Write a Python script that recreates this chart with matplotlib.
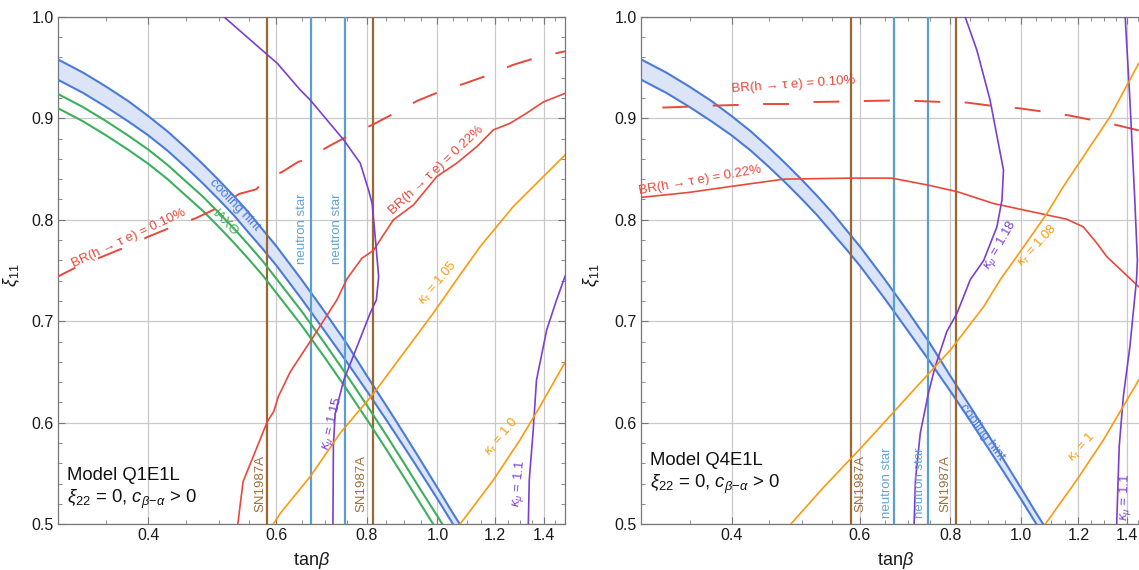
import matplotlib
matplotlib.use('Agg')
import numpy as np
import matplotlib.pyplot as plt
from matplotlib.ticker import FixedLocator, FixedFormatter, NullFormatter

plt.rcParams['font.family'] = ['Liberation Sans', 'DejaVu Sans']
plt.rcParams['mathtext.fontset'] = 'custom'
plt.rcParams['mathtext.rm'] = 'Liberation Sans'
plt.rcParams['mathtext.it'] = 'Liberation Sans:italic'
plt.rcParams['mathtext.bf'] = 'Liberation Sans:bold'
plt.rcParams['lines.scale_dashes'] = False

# ---------------- data ----------------
x_ticks = [0.4, 0.6, 0.8, 1.0, 1.2, 1.4]
x_ticklabels = ['0.4', '0.6', '0.8', '1.0', '1.2', '1.4']
x_minor = [0.35, 0.45, 0.5, 0.55, 0.65, 0.7, 0.75, 0.85, 0.9, 0.95,
           1.05, 1.1, 1.15, 1.25, 1.3, 1.35, 1.45]
y_ticks = [0.5, 0.6, 0.7, 0.8, 0.9, 1.0]
y_ticklabels = ['0.5', '0.6', '0.7', '0.8', '0.9', '1.0']
y_minor = [0.52, 0.54, 0.56, 0.58, 0.62, 0.64, 0.66, 0.68, 0.72, 0.74, 0.76, 0.78,
           0.82, 0.84, 0.86, 0.88, 0.92, 0.94, 0.96, 0.98]

# cooling hint band (both panels)
cool_x_up = [0.300, 0.325, 0.350, 0.375, 0.400, 0.425, 0.450, 0.475, 0.500, 0.525, 0.550, 0.575,
             0.600, 0.650, 0.700, 0.750, 0.800, 0.850, 0.900, 0.950, 1.000, 1.050, 1.074]
cool_y_up = [0.958, 0.945, 0.931, 0.917, 0.902, 0.887, 0.871, 0.855, 0.839, 0.823, 0.807, 0.790,
             0.774, 0.741, 0.709, 0.678, 0.646, 0.617, 0.589, 0.562, 0.536, 0.511, 0.500]
cool_x_lo = [0.300, 0.325, 0.350, 0.375, 0.400, 0.425, 0.450, 0.475, 0.500, 0.525, 0.550, 0.575,
             0.600, 0.650, 0.700, 0.750, 0.800, 0.850, 0.900, 0.950, 1.000, 1.051]
cool_y_lo = [0.938, 0.925, 0.911, 0.897, 0.883, 0.868, 0.852, 0.836, 0.820, 0.804, 0.787, 0.771,
             0.755, 0.722, 0.690, 0.660, 0.631, 0.603, 0.576, 0.550, 0.525, 0.500]

# IAXO lines (left panel)
iaxo_x_up = [0.300, 0.325, 0.350, 0.375, 0.400, 0.425, 0.450, 0.475, 0.500, 0.525, 0.550, 0.575,
             0.600, 0.650, 0.700, 0.750, 0.800, 0.850, 0.900, 0.950, 1.000, 1.016]
iaxo_y_up = [0.924, 0.911, 0.897, 0.883, 0.869, 0.854, 0.838, 0.823, 0.807, 0.791, 0.775, 0.759,
             0.742, 0.710, 0.678, 0.647, 0.617, 0.588, 0.560, 0.533, 0.508, 0.500]
iaxo_x_lo = [0.300, 0.325, 0.350, 0.375, 0.400, 0.425, 0.450, 0.475, 0.500, 0.525, 0.550, 0.575,
             0.600, 0.650, 0.700, 0.750, 0.800, 0.850, 0.900, 0.950, 0.987]
iaxo_y_lo = [0.910, 0.897, 0.883, 0.869, 0.855, 0.840, 0.824, 0.809, 0.793, 0.777, 0.761, 0.745,
             0.728, 0.696, 0.664, 0.633, 0.603, 0.574, 0.546, 0.519, 0.500]

# vertical bounds
sn_x = [0.583, 0.814]
ns_x = [0.669, 0.746]

# ---- left panel: Model Q1E1L ----
L_br010_x = [0.30, 0.3194, 0.3457, 0.3734, 0.40, 0.4322, 0.4647, 0.50, 0.533, 0.563, 0.575, 0.614,
             0.643, 0.661, 0.707, 0.760, 0.815, 0.879, 0.939, 1.016, 1.093, 1.181, 1.27, 1.374, 1.5]
L_br010_y = [0.744, 0.7538, 0.7637, 0.7735, 0.7834, 0.7932, 0.8015, 0.8123, 0.8254, 0.830, 0.8366, 0.848,
             0.857, 0.8596, 0.872, 0.884, 0.8937, 0.9062, 0.9173, 0.9272, 0.9345, 0.943, 0.9525, 0.960, 0.966]
L_br022_x = [0.531, 0.540, 0.583, 0.595, 0.604, 0.627, 0.647, 0.675, 0.712, 0.727, 0.751, 0.787, 0.817,
             0.839, 0.870, 0.927, 0.998, 1.063, 1.133, 1.194, 1.259, 1.327, 1.399, 1.5]
L_br022_y = [0.500, 0.542, 0.601, 0.611, 0.626, 0.650, 0.665, 0.685, 0.711, 0.721, 0.742, 0.762, 0.770,
             0.783, 0.800, 0.8146, 0.8425, 0.8557, 0.872, 0.8885, 0.895, 0.905, 0.916, 0.9246]
L_kmu115_x = [0.508, 0.559, 0.602, 0.647, 0.668, 0.743, 0.783, 0.804, 0.813, 0.821, 0.830, 0.824,
              0.808, 0.775, 0.743, 0.723, 0.719, 0.718]
L_kmu115_y = [1.000, 0.974, 0.954, 0.928, 0.918, 0.8786, 0.8557, 0.829, 0.816, 0.783, 0.744, 0.721,
              0.708, 0.675, 0.642, 0.609, 0.5765, 0.500]
L_kmu110_x = [1.334, 1.338, 1.355, 1.369, 1.414, 1.459, 1.5]
L_kmu110_y = [0.500, 0.5436, 0.593, 0.642, 0.6914, 0.721, 0.745]
L_ktau105_x = [0.594, 0.608, 0.668, 0.735, 0.817, 0.898, 0.987, 1.030, 1.063, 1.145, 1.272, 1.399, 1.5]
L_ktau105_y = [0.500, 0.511, 0.547, 0.590, 0.629, 0.6685, 0.708, 0.727, 0.741, 0.7735, 0.813, 0.8425, 0.864]
L_ktau100_x = [1.074, 1.194, 1.299, 1.384, 1.5]
L_ktau100_y = [0.500, 0.5436, 0.583, 0.616, 0.660]

# ---- right panel: Model Q4E1L ----
R_br010_x = [0.30, 0.322, 0.349, 0.378, 0.408, 0.444, 0.480, 0.522, 0.567, 0.611, 0.665, 0.718, 0.781,
             0.843, 0.917, 0.989, 1.074, 1.160, 1.258, 1.359, 1.453]
R_br010_y = [0.9095, 0.9105, 0.9114, 0.9124, 0.9131, 0.914, 0.914, 0.916, 0.9164, 0.917, 0.9174, 0.917,
             0.916, 0.9154, 0.912, 0.910, 0.9065, 0.903, 0.898, 0.893, 0.888]
R_br022_x = [0.30, 0.35, 0.397, 0.472, 0.583, 0.664, 0.743, 0.817, 0.917, 1.008, 1.157, 1.219, 1.272, 1.313, 1.453]
R_br022_y = [0.822, 0.827, 0.8326, 0.840, 0.841, 0.841, 0.8343, 0.8277, 0.816, 0.8097, 0.8005, 0.793, 0.777,
             0.7637, 0.734]
R_kmu118_x = [0.838, 0.870, 0.907, 0.9465, 0.942, 0.927, 0.889, 0.852, 0.817, 0.791, 0.762, 0.746, 0.727,
              0.716, 0.713]
R_kmu118_y = [1.000, 0.967, 0.918, 0.849, 0.8195, 0.793, 0.760, 0.741, 0.708, 0.690, 0.655, 0.629, 0.5896,
              0.5436, 0.500]
R_kmu110_x = [1.392, 1.413, 1.435, 1.447, 1.443, 1.413, 1.384, 1.366, 1.355]
R_kmu110_y = [1.000, 0.918, 0.820, 0.760, 0.741, 0.675, 0.626, 0.577, 0.500]
R_ktau108_x = [0.482, 0.536, 0.602, 0.647, 0.719, 0.800, 0.889, 0.937, 0.987, 1.086, 1.144, 1.219, 1.327, 1.453]
R_ktau108_y = [0.500, 0.537, 0.575, 0.5995, 0.6356, 0.6717, 0.7144, 0.741, 0.7637, 0.806, 0.8326, 0.862,
               0.9016, 0.954]
R_ktau100_x = [1.080, 1.194, 1.299, 1.453]
R_ktau100_y = [0.500, 0.5436, 0.583, 0.642]

# ---------------- styling ----------------
C_BAND = '#4a7bd9'
C_FILL = '#dce5f7'
C_GREEN = '#3cb05c'
C_RED = '#e8493b'
C_PURPLE = '#7b3fcf'
C_ORANGE = '#fb9a0e'
C_BROWN = '#9c6630'
C_BROWN_T = '#a0703c'
C_NS = '#5a9fd1'
C_NS_T = '#62a4d6'
LBL = 9.5
DASH_ON, DASH_OFF = 18.7, 17.6

fig = plt.figure(figsize=(11.39, 5.70), dpi=100)
ax1 = fig.add_axes([57.7 / 1139, 45.7 / 570, 507.6 / 1139, 507.6 / 570])
ax2 = fig.add_axes([641.0 / 1139, 45.7 / 570, 497.7 / 1139, 507.6 / 570])


def style_axes(ax, xmax, show_right=True):
    ax.set_xscale('log')
    ax.set_xlim(0.3, xmax)
    ax.set_ylim(0.5, 1.0)
    ax.xaxis.set_major_locator(FixedLocator(x_ticks))
    ax.xaxis.set_major_formatter(FixedFormatter(x_ticklabels))
    ax.xaxis.set_minor_locator(FixedLocator(x_minor))
    ax.xaxis.set_minor_formatter(NullFormatter())
    ax.yaxis.set_major_locator(FixedLocator(y_ticks))
    ax.yaxis.set_major_formatter(FixedFormatter(y_ticklabels))
    ax.yaxis.set_minor_locator(FixedLocator(y_minor))
    ax.yaxis.set_minor_formatter(NullFormatter())
    ax.tick_params(which='both', direction='in', top=True, right=show_right,
                   color='#777777', labelcolor='#1a1a1a', labelsize=11.5, pad=3)
    ax.tick_params(which='major', length=5, width=0.8)
    ax.tick_params(which='minor', length=2.6, width=0.6)
    ax.grid(True, which='major', color='#c9c9c9', lw=0.9)
    ax.set_axisbelow(True)
    for s in ax.spines.values():
        s.set_color('#777777')
        s.set_linewidth(0.9)
    if not show_right:
        ax.spines['right'].set_visible(False)


style_axes(ax1, 1.5, True)
style_axes(ax2, 1.453, False)


def draw_band(ax):
    px = np.concatenate([cool_x_up, cool_x_lo[::-1]])
    py = np.concatenate([cool_y_up, cool_y_lo[::-1]])
    ax.fill(px, py, color=C_FILL, lw=0, zorder=1)
    ax.plot(cool_x_up, cool_y_up, color=C_BAND, lw=1.5, zorder=3, solid_joinstyle='round')
    ax.plot(cool_x_lo, cool_y_lo, color=C_BAND, lw=1.5, zorder=3, solid_joinstyle='round')


def draw_verticals(ax):
    for xv in sn_x:
        ax.axvline(xv, color=C_BROWN, lw=1.6, zorder=4)
    for xv in ns_x:
        ax.axvline(xv, color=C_NS, lw=1.6, zorder=4)


def lab(ax, x, y, s, color, rot, size=LBL, ha='center', va='center'):
    ax.text(x, y, s, color=color, rotation=rot, rotation_mode='anchor',
            ha=ha, va=va, fontsize=size, zorder=6)


def curve(ax, xs, ys, color, lw=1.2, **kw):
    ax.plot(xs, ys, color=color, lw=lw, zorder=5, solid_joinstyle='round', **kw)


# ---------------- left panel ----------------
draw_band(ax1)
curve(ax1, iaxo_x_up, iaxo_y_up, C_GREEN, lw=1.5)
curve(ax1, iaxo_x_lo, iaxo_y_lo, C_GREEN, lw=1.5)
draw_verticals(ax1)
curve(ax1, L_br010_x, L_br010_y, C_RED, lw=1.4, linestyle=(4.5, (DASH_ON, DASH_OFF)))
curve(ax1, L_br022_x, L_br022_y, C_RED)
curve(ax1, L_kmu115_x, L_kmu115_y, C_PURPLE)
curve(ax1, L_kmu110_x, L_kmu110_y, C_PURPLE)
curve(ax1, L_ktau105_x, L_ktau105_y, C_ORANGE)
curve(ax1, L_ktau100_x, L_ktau100_y, C_ORANGE)

lab(ax1, 0.376, 0.7818, 'BR(h \u2192 \u03c4 e) = 0.10%', C_RED, 25)
lab(ax1, 0.995, 0.849, 'BR(h \u2192 \u03c4 e) = 0.22%', C_RED, 43)
lab(ax1, 0.716, 0.5995, r'$\kappa_{\mu}$ = 1.15', C_PURPLE, 76)
lab(ax1, 1.296, 0.540, r'$\kappa_{\mu}$ = 1.1', C_PURPLE, 84)
lab(ax1, 1.002, 0.738, r'$\kappa_{\tau}$ = 1.05', C_ORANGE, 50)
lab(ax1, 1.226, 0.5863, r'$\kappa_{\tau}$ = 1.0', C_ORANGE, 50)
lab(ax1, 0.525, 0.8143, 'cooling hint', C_BAND, -46)
lab(ax1, 0.510, 0.796, 'IAXO', C_GREEN, -46)
lab(ax1, 0.5706, 0.512, 'SN1987A', C_BROWN_T, 90, ha='left')
lab(ax1, 0.787, 0.512, 'SN1987A', C_BROWN_T, 90, ha='left')
lab(ax1, 0.651, 0.756, 'neutron star', C_NS_T, 90, ha='left')
lab(ax1, 0.727, 0.756, 'neutron star', C_NS_T, 90, ha='left')
ax1.text(0.0177, 0.0873, 'Model Q1E1L', transform=ax1.transAxes, fontsize=13.3,
         color='#111111', ha='left', va='baseline')
ax1.text(0.0177, 0.0414, r'$\xi_{22}$ = 0, $c_{\beta\!-\!\alpha}$ > 0', transform=ax1.transAxes,
         fontsize=13.3, color='#111111', ha='left', va='baseline')

# ---------------- right panel ----------------
draw_band(ax2)
draw_verticals(ax2)
curve(ax2, R_br010_x, R_br010_y, C_RED, lw=1.4, linestyle=(20.9, (DASH_ON, DASH_OFF)))
curve(ax2, R_br022_x, R_br022_y, C_RED)
curve(ax2, R_kmu118_x, R_kmu118_y, C_PURPLE)
curve(ax2, R_kmu110_x, R_kmu110_y, C_PURPLE)
curve(ax2, R_ktau108_x, R_ktau108_y, C_ORANGE)
curve(ax2, R_ktau100_x, R_ktau100_y, C_ORANGE)

lab(ax2, 0.486, 0.933, 'BR(h \u2192 \u03c4 e) = 0.10%', C_RED, 4)
lab(ax2, 0.362, 0.839, 'BR(h \u2192 \u03c4 e) = 0.22%', C_RED, 10)
lab(ax2, 0.937, 0.775, r'$\kappa_{\mu}$ = 1.18', C_PURPLE, 60)
lab(ax2, 1.055, 0.775, r'$\kappa_{\tau}$ = 1.08', C_ORANGE, 47)
lab(ax2, 1.391, 0.527, r'$\kappa_{\mu}$ = 1.1', C_PURPLE, 88)
lab(ax2, 1.213, 0.576, r'$\kappa_{\tau}$ = 1', C_ORANGE, 48)
lab(ax2, 0.884, 0.591, 'cooling hint', C_BAND, -53)
lab(ax2, 0.601, 0.512, 'SN1987A', C_BROWN_T, 90, ha='left')
lab(ax2, 0.787, 0.512, 'SN1987A', C_BROWN_T, 90, ha='left')
lab(ax2, 0.654, 0.506, 'neutron star', C_NS_T, 90, ha='left')
lab(ax2, 0.727, 0.506, 'neutron star', C_NS_T, 90, ha='left')
ax2.text(0.018, 0.1168, 'Model Q4E1L', transform=ax2.transAxes, fontsize=13.3,
         color='#111111', ha='left', va='baseline')
ax2.text(0.018, 0.071, r'$\xi_{22}$ = 0, $c_{\beta\!-\!\alpha}$ > 0', transform=ax2.transAxes,
         fontsize=13.3, color='#111111', ha='left', va='baseline')

# axis labels
for ax, xl_frac, yl_frac in ((ax1, 0.5, -0.071), (ax2, 0.5108, -0.079)):
    ax.set_xlabel(r'tan$\beta$', fontsize=13, color='#1a1a1a')
    ax.xaxis.set_label_coords(xl_frac, -0.0795)
    ax.xaxis.label.set_va('baseline')
    ax.set_ylabel(r'$\xi_{11}$', fontsize=13, color='#1a1a1a')
    ax.yaxis.set_label_coords(yl_frac, 0.49)

fig.savefig('out.png', dpi=100)
